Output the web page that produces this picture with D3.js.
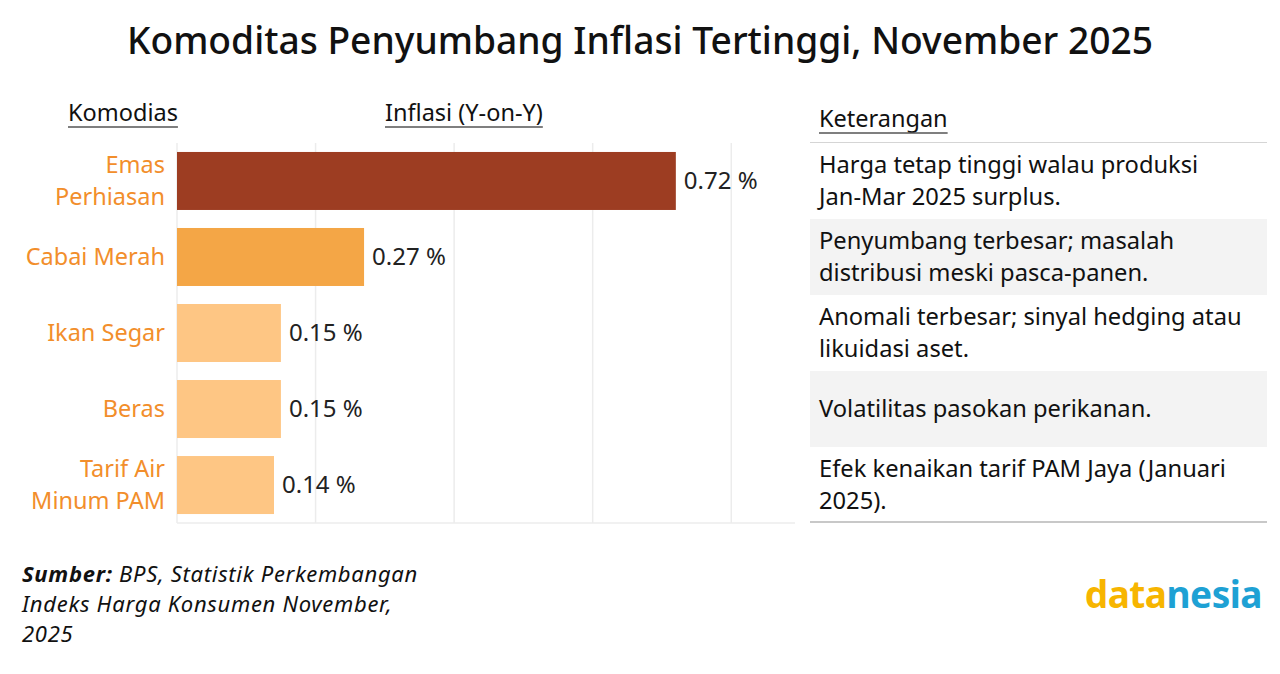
<!DOCTYPE html>
<html lang="id">
<head>
    <meta charset="UTF-8">
    <title>Komoditas Penyumbang Inflasi Tertinggi, November 2025</title>
    <script src="https://d3js.org/d3.v7.min.js"></script>
    <style>
        body { margin: 0; background: #fff; }
        text { font-family: "Noto Sans", "Open Sans", sans-serif; }
    </style>
</head>
<body>
    <svg width="1280" height="674" id="chart"></svg>

    <script>
        // Data
        const categories = ["Emas\nPerhiasan", "Cabai Merah", "Ikan Segar", "Beras", "Tarif Air\nMinum PAM"];
        const inflation = [0.72, 0.27, 0.15, 0.15, 0.14];
        const notes = [
            "Harga tetap tinggi walau produksi\nJan-Mar 2025 surplus.",
            "Penyumbang terbesar; masalah\ndistribusi meski pasca-panen.",
            "Anomali terbesar; sinyal hedging atau\nlikuidasi aset.",
            "Volatilitas pasokan perikanan.",
            "Efek kenaikan tarif PAM Jaya (Januari\n2025)."
        ];
        const xTicks = [0, 0.2, 0.4, 0.6, 0.8];

        // Styles
        const barColors = ["#9d3d22", "#f4a646", "#fec684", "#fec684", "#fec684"];
        const labelColor = "#f28e2b";
        const gridColor = "#ececec";

        const svg = d3.select("#chart");

        // Title
        svg.append("text")
            .attr("x", 640).attr("y", 54)
            .attr("text-anchor", "middle")
            .style("font-size", "37.2px")
            .style("font-weight", 500)
            .style("fill", "#111")
            .text("Komoditas Penyumbang Inflasi Tertinggi, November 2025");

        // Chart area
        const plotLeft = 177, plotRight = 795, plotTop = 143, plotBottom = 523;

        const x = d3.scaleLinear().domain([0, 0.892]).range([plotLeft, plotRight]);
        const y = d3.scaleBand().domain(categories).range([plotTop, plotBottom]).paddingInner(0.237).paddingOuter(0.118);

        // Gridlines
        svg.append("g")
            .selectAll("line")
            .data(xTicks)
            .join("line")
            .attr("x1", d => x(d)).attr("x2", d => x(d))
            .attr("y1", plotTop).attr("y2", plotBottom)
            .style("stroke", gridColor)
            .style("stroke-width", 1.5);

        // Bottom axis line
        svg.append("line")
            .attr("x1", plotLeft).attr("x2", plotRight)
            .attr("y1", plotBottom).attr("y2", plotBottom)
            .style("stroke", gridColor)
            .style("stroke-width", 1.5);

        // Bars
        svg.append("g")
            .selectAll("rect")
            .data(categories)
            .join("rect")
            .attr("x", x(0))
            .attr("y", d => y(d))
            .attr("width", (d, i) => x(inflation[i]) - x(0))
            .attr("height", y.bandwidth())
            .style("fill", (d, i) => barColors[i]);

        // Value labels
        svg.append("g")
            .selectAll("text")
            .data(categories)
            .join("text")
            .attr("x", (d, i) => x(inflation[i]) + 8)
            .attr("y", d => y(d) + y.bandwidth() / 2)
            .attr("dy", "0.35em")
            .style("font-size", "24px")
            .style("fill", "#222")
            .text((d, i) => inflation[i].toFixed(2) + " %");

        // Category labels
        const catG = svg.append("g");
        categories.forEach(c => {
            const lines = c.split("\n");
            const cy = y(c) + y.bandwidth() / 2;
            const t = catG.append("text")
                .attr("text-anchor", "end")
                .style("font-size", "23.5px")
                .style("fill", labelColor);
            lines.forEach((ln, j) => {
                t.append("tspan")
                    .attr("x", 165)
                    .attr("y", cy + (j - (lines.length - 1) / 2) * 32)
                    .attr("dy", "0.35em")
                    .text(ln);
            });
        });

        // Column headers (underlined)
        function header(xPos, yPos, label) {
            const t = svg.append("text")
                .attr("x", xPos).attr("y", yPos)
                .style("font-size", "23.5px")
                .style("fill", "#111")
                .text(label);
            const w = t.node().getComputedTextLength();
            svg.append("line")
                .attr("x1", xPos).attr("x2", xPos + w)
                .attr("y1", yPos + 6).attr("y2", yPos + 6)
                .style("stroke", "#555")
                .style("stroke-width", 1.5);
        }
        header(68, 121, "Komodias");
        header(385, 121, "Inflasi (Y-on-Y)");
        header(819, 127, "Keterangan");

        // Notes table
        const tblLeft = 810, tblRight = 1267;
        svg.append("line")
            .attr("x1", tblLeft).attr("x2", tblRight)
            .attr("y1", 142.5).attr("y2", 142.5)
            .style("stroke", "#d4d4d4")
            .style("stroke-width", 1);

        svg.append("g")
            .selectAll("rect")
            .data(categories)
            .join("rect")
            .attr("x", tblLeft)
            .attr("y", d => y(d) - y.step() * y.paddingInner() / 2)
            .attr("width", tblRight - tblLeft)
            .attr("height", y.step())
            .style("fill", (d, i) => i % 2 === 1 ? "#f3f3f3" : "#fff");

        const noteG = svg.append("g");
        categories.forEach((c, i) => {
            const lines = notes[i].split("\n");
            const cy = y(c) + y.bandwidth() / 2;
            const t = noteG.append("text")
                .style("font-size", "23.7px")
                .style("fill", "#111");
            lines.forEach((ln, j) => {
                t.append("tspan")
                    .attr("x", 819)
                    .attr("y", cy + (j - (lines.length - 1) / 2) * 32)
                    .attr("dy", "0.35em")
                    .text(ln);
            });
        });

        svg.append("line")
            .attr("x1", tblLeft).attr("x2", tblRight)
            .attr("y1", 522).attr("y2", 522)
            .style("stroke", "#c8c8c8")
            .style("stroke-width", 2);

        // Source note
        const srcLines = [
            ["Sumber:", " BPS, Statistik Perkembangan"],
            ["", "Indeks Harga Konsumen November,"],
            ["", "2025"]
        ];
        srcLines.forEach((ln, j) => {
            const row = svg.append("text")
                .attr("x", 22).attr("y", 582 + j * 30)
                .style("font-size", "22px")
                .style("font-style", "italic")
                .style("letter-spacing", "0.7px")
                .style("fill", "#111");
            if (ln[0]) row.append("tspan").style("font-weight", "bold").text(ln[0]);
            row.append("tspan").text(ln[1]);
        });

        // Logo
        const logo = svg.append("text")
            .attr("x", 1262).attr("y", 608)
            .attr("text-anchor", "end")
            .style("font-size", "37px")
            .style("font-weight", "bold")
            .style("letter-spacing", "-0.5px");
        logo.append("tspan").style("fill", "#f7b500").text("data");
        logo.append("tspan").style("fill", "#1ea1d4").text("nesia");
    </script>
</body>
</html>
